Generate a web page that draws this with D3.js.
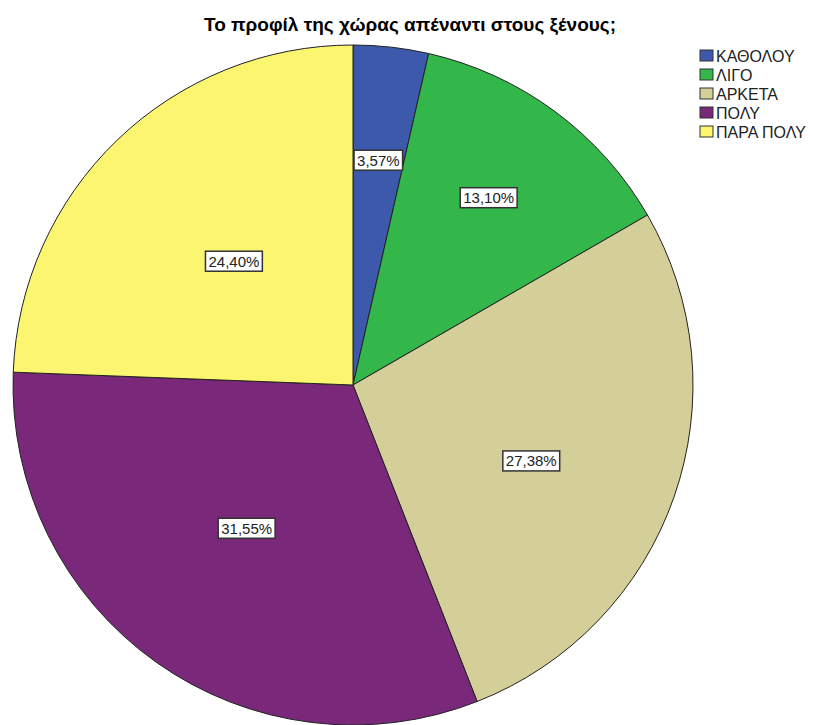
<!DOCTYPE html>
<html><head><meta charset="utf-8">
<script src="https://cdn.jsdelivr.net/npm/d3@7"></script>
<style>body{margin:0;background:#fff}svg{display:block}</style>
</head><body>
<svg id="c" width="813" height="725"></svg>
<script>
const title = "Το προφίλ της χώρας απέναντι στους ξένους;";
const categories = ["ΚΑΘΟΛΟΥ", "ΛΙΓΟ", "ΑΡΚΕΤΑ", "ΠΟΛΥ", "ΠΑΡΑ ΠΟΛΥ"];
const values = [3.57, 13.10, 27.38, 31.55, 24.40];
const colors = ["#3d59ab", "#33b74a", "#d4cf99", "#7a287a", "#fbf570"];
const labelRadiusFactor = [0.665, 0.68, 0.57, 0.525, 0.505];
const labelAngleShiftDeg = [0, -0.5, 3.8, 1.2, 0];

const svg = d3.select("#c");
const cx = 353, cy = 385, R = 340;

svg.append("text").attr("x", 410).attr("y", 31).attr("text-anchor", "middle")
  .attr("font-family", "Liberation Sans, Arial, sans-serif").attr("font-weight", "bold")
  .attr("font-size", 19).attr("fill", "#000").text(title);

const pie = d3.pie().value(d => d).sort(null);
const arcs = pie(values);
const arc = d3.arc().innerRadius(0).outerRadius(R);
const g = svg.append("g").attr("transform", `translate(${cx},${cy})`);
g.selectAll("path").data(arcs).join("path")
  .attr("d", arc).attr("fill", (d, i) => colors[i])
  .attr("stroke", "#222").attr("stroke-width", 1);

const fmt = v => v.toFixed(2).replace(".", ",") + "%";
arcs.forEach((a, i) => {
  const r = R * labelRadiusFactor[i];
  const shift = labelAngleShiftDeg[i] * Math.PI / 180;
  const la = d3.arc().innerRadius(r).outerRadius(r);
  const [x, y] = la.centroid({startAngle: a.startAngle + shift, endAngle: a.endAngle + shift});
  const lg = g.append("g").attr("transform", `translate(${x},${y})`);
  const t = lg.append("text").attr("text-anchor", "middle").attr("dy", "0.36em")
    .attr("font-family", "Liberation Sans, Arial, sans-serif").attr("font-size", 15)
    .attr("fill", "#222").text(fmt(values[i]));
  const bb = t.node().getBBox();
  lg.insert("rect", "text").attr("x", bb.x - 3).attr("y", bb.y - 1.5)
    .attr("width", bb.width + 6).attr("height", bb.height + 3)
    .attr("fill", "#fff").attr("stroke", "#333").attr("stroke-width", 1.5);
});

const leg = svg.append("g").attr("transform", "translate(700,50)");
categories.forEach((c, i) => {
  const row = leg.append("g").attr("transform", `translate(0,${i * 19})`);
  row.append("rect").attr("x", 0).attr("y", 0).attr("width", 13).attr("height", 11)
    .attr("fill", colors[i]).attr("stroke", "#333").attr("stroke-width", 1);
  row.append("text").attr("x", 16).attr("y", 11.5)
    .attr("font-family", "Liberation Sans, Arial, sans-serif").attr("font-size", 16)
    .attr("fill", "#222").text(c);
});
</script>
</body></html>
